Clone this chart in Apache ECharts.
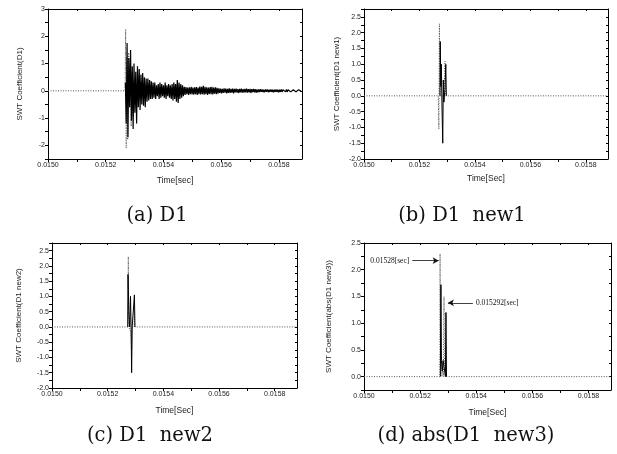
<!DOCTYPE html>
<html><head><meta charset="utf-8">
<script src="https://cdn.jsdelivr.net/npm/echarts@6/dist/echarts.min.js"></script>
<style>html,body{margin:0;padding:0;background:#fff}#c{width:617px;height:454px}</style>
</head><body><div id="c"></div>
<script>
// ---------- data ----------
const xTickLabels = ['0.0150', '0.0152', '0.0154', '0.0156', '0.0158'];
const aYTickLabels = ['-2', '-1', '0', '1', '2', '3'];
const bYTickLabels = ['-2.0', '-1.5', '-1.0', '-0.5', '0.0', '0.5', '1.0', '1.5', '2.0', '2.5'];
const dYTickLabels = ['0.0', '0.5', '1.0', '1.5', '2.0', '2.5'];

const aStart = 0.015268;
const aStep = 0.000003;
const aValues = [
  0.3, -1.2, 1.75, -1.7, 1.2, -0.6, 1.5, -1.1, 0.9, -1.4,
  1.0, -0.8, 0.7, -1.2, 0.9, -0.6, 0.8, -0.7, 0.6, -0.5,
  0.65, -0.55, 0.5, -0.6, 0.45, -0.4, 0.45, -0.35, 0.4, -0.3,
  0.35, -0.3, 0.3, -0.25, 0.3, -0.3, 0.2, -0.2, 0.25, -0.3,
  0.3, -0.25, 0.25, -0.2, 0.2, -0.25, 0.3, -0.3, 0.2, -0.2,
  0.25, -0.25, 0.2, -0.3, 0.25, -0.35, 0.3, -0.3, 0.25, -0.4,
  0.4, -0.45, 0.3, -0.3, 0.25, -0.25, 0.2, -0.2, 0.15, -0.15,
  0.14, -0.12, 0.12, -0.15, 0.13, -0.12, 0.15, -0.13, 0.12, -0.14,
  0.13, -0.12, 0.14, -0.15, 0.12, -0.12, 0.16, -0.13, 0.15, -0.12,
  0.18, -0.14, 0.15, -0.12, 0.13, -0.15, 0.12, -0.11, 0.14, -0.12,
  0.15, -0.13, 0.12, -0.1, 0.13, -0.12, 0.11, -0.1, 0.09, -0.08,
  0.08, -0.09, 0.07, -0.08, 0.09, -0.07, 0.08, -0.09, 0.07, -0.08,
  0.09, -0.08, 0.07, -0.07, 0.08, -0.09, 0.07, -0.06, 0.08, -0.07,
  0.06, -0.08, 0.07, -0.06, 0.08, -0.07, 0.06, -0.07, 0.07, -0.06,
  0.08, -0.07, 0.06, -0.06, 0.07, -0.08, 0.06, -0.05, 0.07, -0.06,
  0.06, -0.07, 0.05, -0.06, 0.05, -0.05, 0.06, -0.04, 0.05, -0.05,
  0.04, -0.05, 0.05, -0.04, 0.05, -0.05, 0.04, -0.04, 0.05, -0.04,
  0.04, -0.05, 0.04, -0.04, 0.05, -0.04, 0.04, -0.05, 0.04, -0.04,
  0.05, -0.04, 0.04, -0.03, 0.04, -0.04, 0.05, -0.04, 0.04, -0.03,
  0.04, -0.04, 0.03, -0.04, 0.04, -0.03, 0.04, -0.04, 0.03, -0.03,
  0.04, -0.03, 0.03, -0.02
];
const aDotT = [0.0150, 0.015267, 0.015269, 0.015271, 0.015273, 0.015276, 0.015279, 0.015282, 0.015285, 0.015288, 0.015291, 0.015294, 0.015297];
const aDotV = [0, 0, 2.26, -2.1, 1.2, -1.8, 1.4, -0.5, 1.0, -1.3, 0.7, -0.9, 0.3];

// (b) D1 new1
const bSolidT = [0.015274, 0.015275, 0.015277, 0.015279, 0.015281, 0.015284, 0.015286, 0.015288, 0.015292, 0.015295, 0.015297];
const bSolidV = [0, 1.72, 0.3, 1.0, -0.2, -1.5, 0.5, -0.2, 0.2, 1.0, 0];
const bDotT = [0.0150, 0.015268, 0.01527, 0.015272, 0.015274, 0.015286, 0.015288, 0.015292, 0.015294, 0.01588];
const bDotV = [0, 0, -1.05, 2.28, 0, 0, -0.2, 1.1, 0, 0];

// (c) D1 new2
const cSolidT = [0.015272, 0.015273, 0.015276, 0.015279, 0.015282, 0.015284, 0.015286, 0.015288, 0.015294, 0.015296, 0.015298];
const cSolidV = [0, 1.72, 0.5, 0, 1.0, 0, -1.5, 0, 0, 1.05, 0];
const cDotT = [0.0150, 0.015273, 0.015274, 0.015276, 0.015284, 0.015286, 0.015287, 0.015295, 0.015296, 0.015297, 0.01588];
const cDotV = [0, 0, 2.3, 0, -0.2, -0.75, 0, 0, 0.5, 0, 0];

// (d) abs(D1 new3)
const dSolidT = [0.015272, 0.015274, 0.015276, 0.015279, 0.015282, 0.015285, 0.01529, 0.015292, 0.015294];
const dSolidV = [0, 1.72, 0.3, 0.1, 0.3, 0.2, 0, 1.2, 0];
const dDotT = [0.0150, 0.01527, 0.015271, 0.015273, 0.015276, 0.015278, 0.015281, 0.015283, 0.015285, 0.015287, 0.015289, 0.015291, 0.01588];
const dDotV = [0, 0, 2.3, 0, 0.3, 0, 0.3, 0, 1.5, 0.2, 0.3, 0, 0];

// annotations in (d)
const dNote1 = { text: '0.01528[sec]', from: [0.015172, 2.17], to: [0.015266, 2.17] };
const dNote2 = { text: '0.015292[sec]', from: [0.015388, 1.38], to: [0.015299, 1.38] };

const captions = ['(a) D1', '(b) D1  new1', '(c) D1  new2', '(d) abs(D1  new3)'];

// ---------- chart ----------
const zip = (t, v) => t.map((x, i) => [x, v[i]]);
const aSolid = aValues.map((v, i) => [aStart + i * aStep, v]);

const XMIN = 0.0150, XMAX = 0.01588;
const SANS = 'Liberation Sans, Arial, sans-serif';

const grids = [
  { left: 48, top: 9, width: 254, height: 150 },
  { left: 364, top: 9, width: 244, height: 150 },
  { left: 52, top: 243, width: 245, height: 145 },
  { left: 364, top: 243, width: 247, height: 147 }
];

function xFmt(v) {
  const s = (Math.round(v * 1e4) / 1e4).toFixed(4);
  return Math.abs(v * 1e4 - Math.round(v * 1e4)) < 1e-6 && xTickLabels.includes(s) ? s : '';
}
function yFmtA(v) {
  const s = String(Math.round(v));
  return Math.abs(v - Math.round(v)) < 1e-9 && aYTickLabels.includes(s) ? s : '';
}
function yFmtHalf(list) {
  return function (v) {
    if (Math.abs(v * 2 - Math.round(v * 2)) > 1e-9) return '';
    let s = (Math.round(v * 2) / 2).toFixed(1);
    if (s === '-0.0') s = '0.0';
    return list.includes(s) ? s : '';
  };
}

const axisLine = { show: true, onZero: false, lineStyle: { color: '#000', width: 1 } };
const labelStyle = { fontSize: 7, color: '#222', fontFamily: SANS, margin: 3 };

const xNames = ['Time[sec]', 'Time[Sec]', 'Time[Sec]', 'Time[Sec]'];
const yNames = ['SWT Coefficient(D1)', 'SWT Coefficient(D1 new1)', 'SWT Coefficient(D1 new2)', 'SWT Coefficient(abs(D1 new3))'];
const yNameGaps = [24, 23, 29, 31];
const xNameGaps = [17, 15, 18, 18];
const yRanges = [
  { min: -2.5, max: 3, interval: 0.5, fmt: yFmtA },
  { min: -2, max: 2.75, interval: 0.25, fmt: yFmtHalf(bYTickLabels) },
  { min: -2, max: 2.75, interval: 0.25, fmt: yFmtHalf(bYTickLabels) },
  { min: -0.25, max: 2.5, interval: 0.25, fmt: yFmtHalf(dYTickLabels) }
];

const xAxis = [], yAxis = [];
for (let g = 0; g < 4; g++) {
  xAxis.push({
    type: 'value', gridIndex: g, min: XMIN, max: XMAX, interval: 0.0001, position: 'bottom',
    name: xNames[g], nameLocation: 'middle', nameGap: xNameGaps[g],
    nameTextStyle: { fontSize: 8.5, color: '#222', fontFamily: SANS },
    axisLine, splitLine: { show: false },
    axisTick: { show: true, length: 3, lineStyle: { color: '#000' } },
    axisLabel: Object.assign({ formatter: xFmt, showMaxLabel: false }, labelStyle)
  });
  xAxis.push({
    type: 'value', gridIndex: g, min: XMIN, max: XMAX, interval: 0.0001, position: 'top',
    axisLine, splitLine: { show: false },
    axisTick: { show: true, inside: true, length: 2, lineStyle: { color: '#000' } },
    axisLabel: { show: false }
  });
  const yr = yRanges[g];
  yAxis.push({
    type: 'value', gridIndex: g, min: yr.min, max: yr.max, interval: yr.interval, position: 'left',
    name: yNames[g], nameLocation: 'middle', nameGap: yNameGaps[g], nameRotate: 90,
    nameTextStyle: { fontSize: 8, color: '#222', fontFamily: SANS },
    axisLine, splitLine: { show: false },
    axisTick: { show: true, length: 3, lineStyle: { color: '#000' } },
    axisLabel: Object.assign({ formatter: yr.fmt }, labelStyle)
  });
  yAxis.push({
    type: 'value', gridIndex: g, min: yr.min, max: yr.max, interval: yr.interval, position: 'right',
    axisLine, splitLine: { show: false },
    axisTick: { show: true, inside: true, length: 2, lineStyle: { color: '#000' } },
    axisLabel: { show: false }
  });
}

function dotted(g, data) {
  return { type: 'line', xAxisIndex: g * 2, yAxisIndex: g * 2, data, showSymbol: false, symbol: 'none',
    silent: true, z: 2, lineStyle: { color: '#555', width: 1, type: [1, 1.5] } };
}
function solid(g, data, extra) {
  return Object.assign({ type: 'line', xAxisIndex: g * 2, yAxisIndex: g * 2, data, showSymbol: false, symbol: 'none',
    silent: true, z: 3, lineStyle: { color: '#000', width: 1 } }, extra || {});
}

const noteLabel = { show: true, position: 'start', distance: 3, fontSize: 7.5, color: '#111',
  fontFamily: 'Liberation Serif, Times New Roman, serif' };
const series = [
  dotted(0, zip(aDotT, aDotV)),
  solid(0, aSolid, { lineStyle: { color: '#000', width: 1.2 } }),
  dotted(1, zip(bDotT, bDotV)),
  solid(1, zip(bSolidT, bSolidV)),
  dotted(2, zip(cDotT, cDotV)),
  solid(2, zip(cSolidT, cSolidV)),
  dotted(3, zip(dDotT, dDotV)),
  solid(3, zip(dSolidT, dSolidV), {
    markLine: {
      silent: true, animation: false, symbol: ['none', 'arrow'], symbolSize: [5, 6],
      lineStyle: { color: '#111', width: 0.8, type: 'solid' },
      label: noteLabel, emphasis: { disabled: true },
      data: [
        [{ coord: dNote1.from, label: Object.assign({ formatter: dNote1.text }, noteLabel) }, { coord: dNote1.to }],
        [{ coord: dNote2.from, label: Object.assign({ formatter: dNote2.text }, noteLabel) }, { coord: dNote2.to }]
      ]
    }
  })
];

const capPos = [[157, 216], [462, 216], [150, 436], [466, 436]];
const graphic = captions.map((t, i) => ({
  type: 'text', x: capPos[i][0], y: capPos[i][1], silent: true,
  style: { text: t, x: 0, y: 0, align: 'center', verticalAlign: 'middle',
    font: '19.5px "DejaVu Serif", serif', fill: '#111' }
}));

const chart = echarts.init(document.getElementById('c'), null, { renderer: 'canvas' });
chart.setOption({
  animation: false,
  backgroundColor: '#fff',
  grid: grids.map(g => Object.assign({ containLabel: false }, g)),
  xAxis, yAxis, series, graphic
});
</script></body></html>
